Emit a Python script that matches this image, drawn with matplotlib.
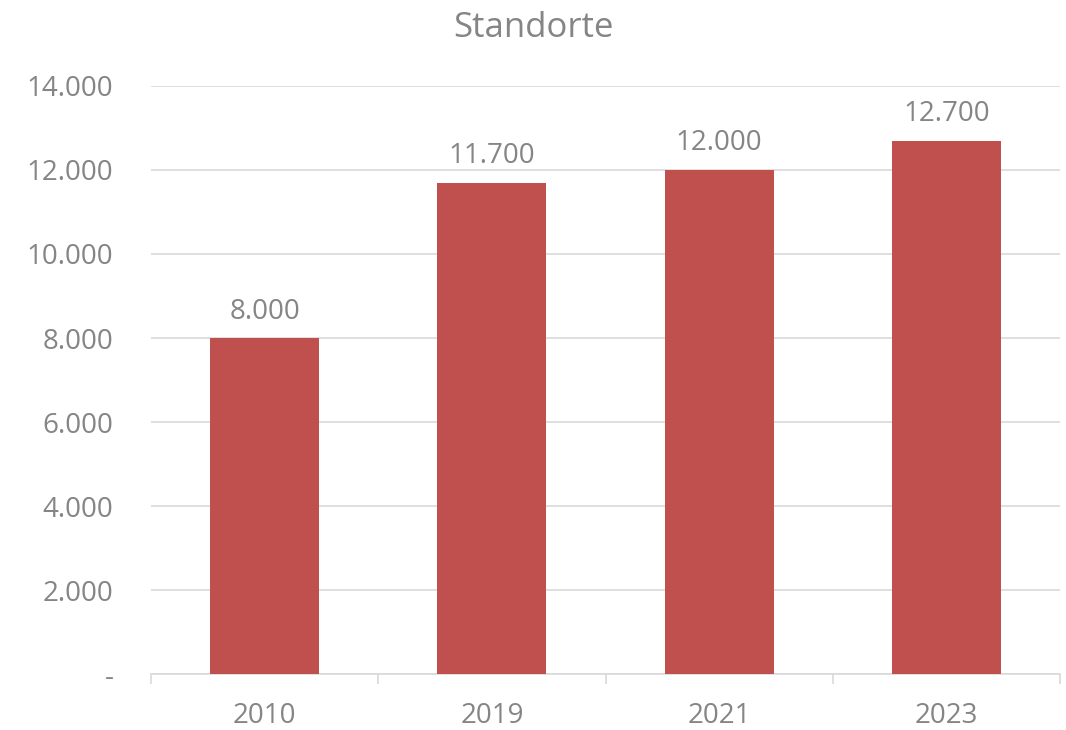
import matplotlib.pyplot as plt
import numpy as np

# Data
years = ["2010", "2019", "2021", "2023"]
standorte = [8000, 11700, 12000, 12700]
y_ticks = [0, 2000, 4000, 6000, 8000, 10000, 12000, 14000]

bar_color = "#C0504D"
text_color = "#858585"
grid_color = "#D9D9D9"

plt.rcParams['font.family'] = ['Open Sans', 'DejaVu Sans']


def fmt_de(v):
    if v == 0:
        return "-"
    return f"{v:,.0f}".replace(",", ".")


fig = plt.figure(figsize=(10.66, 7.30), dpi=100)
ax = fig.add_axes([0.1417, 0.0767, 0.8527, 0.8055])

x = np.arange(len(years))
bars = ax.bar(x, standorte, width=0.48, color=bar_color, zorder=3)

for xi, v in zip(x, standorte):
    ax.annotate(fmt_de(v), (xi, v), xytext=(0, 9), textcoords="offset points",
                ha="center", va="bottom", fontsize=20, color=text_color)

ax.set_ylim(0, 14000)
ax.set_xlim(-0.5, len(years) - 0.5)
ax.set_yticks(y_ticks)
ax.set_yticklabels([fmt_de(v) for v in y_ticks])
ax.yaxis.grid(True, color=grid_color, linewidth=1.2, zorder=0)
ax.tick_params(axis="y", length=0, pad=27, labelsize=20, labelcolor=text_color)

# category labels centered, tick marks at boundaries
ax.set_xticks(x)
ax.set_xticklabels(years)
ax.set_xticks(np.arange(-0.5, len(years)), minor=True)
ax.tick_params(axis="x", which="major", length=0, pad=20, labelsize=20, labelcolor=text_color)
ax.tick_params(axis="x", which="minor", length=7.5, width=1.2, color=grid_color)

for s in ["left", "right", "top"]:
    ax.spines[s].set_visible(False)
ax.spines["bottom"].set_color(grid_color)
ax.spines["bottom"].set_linewidth(1.2)

fig.text(0.5, 0.962, "Standorte", ha="center", va="center", fontsize=25, color=text_color)

fig.savefig("out.png", dpi=100)
